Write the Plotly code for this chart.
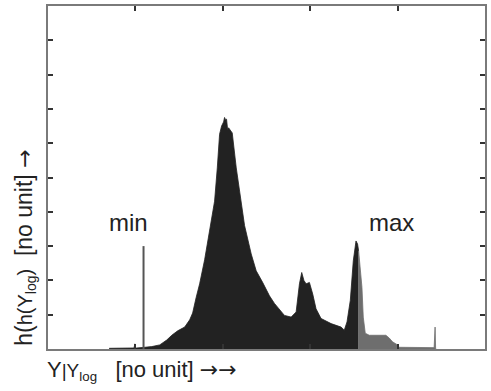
import plotly.graph_objects as go

# Histogram envelope (x in axis units 0..5, height in axis units 0..10)
dark_x = [0.70, 0.97, 0.985, 0.993, 1.0, 1.016, 1.05, 1.107, 1.187, 1.279, 1.358, 1.416, 1.484,
          1.564, 1.621, 1.655, 1.695, 1.735, 1.792, 1.838, 1.869, 1.906, 1.937, 1.963, 1.986,
          2.009, 2.020, 2.032, 2.043, 2.055, 2.066, 2.078, 2.108, 2.154, 2.211, 2.249, 2.325,
          2.382, 2.454, 2.534, 2.591, 2.705, 2.782, 2.839, 2.877, 2.903, 2.928, 2.953, 2.991,
          3.029, 3.067, 3.124, 3.239, 3.353, 3.390, 3.421, 3.459, 3.482, 3.493, 3.524, 3.542,
          3.554]
dark_y = [0.02, 0.03, 0.03, 0.15, 0.03, 0.03, 0.03, 0.05, 0.07, 0.12, 0.26, 0.40, 0.53,
          0.64, 0.85, 1.05, 1.50, 1.90, 2.60, 3.30, 3.73, 4.31, 5.28, 6.26, 6.50,
          6.62, 6.75, 6.68, 6.70, 6.40, 6.45, 6.40, 6.30, 5.28, 4.31, 3.60, 2.77,
          2.28, 1.95, 1.55, 1.33, 0.98, 0.93, 1.08, 1.90, 2.23, 2.00, 1.90, 1.94,
          1.60, 1.17, 0.89, 0.74, 0.64, 0.55, 0.79, 1.42, 2.20, 2.57, 3.15, 3.06,
          2.86]

gray_x = [3.554, 3.570, 3.592, 3.607, 3.630, 3.676, 3.790, 3.866, 3.904, 3.942, 3.999,
          4.018, 4.418, 4.424, 4.429, 4.435, 4.441]
gray_y = [2.86, 2.49, 1.80, 0.93, 0.46, 0.40, 0.40, 0.40, 0.32, 0.21, 0.12,
          0.05, 0.04, 0.64, 0.64, 0.02, 0.0]

min_pos = 1.093
min_height = 3.0

fig = go.Figure()
fig.add_trace(go.Scatter(x=dark_x, y=dark_y, mode="lines", fill="tozeroy",
                         line=dict(color="#222222", width=0.8), fillcolor="#222222",
                         hoverinfo="skip"))
fig.add_trace(go.Scatter(x=gray_x, y=gray_y, mode="lines", fill="tozeroy",
                         line=dict(color="#6e6e6e", width=0.8), fillcolor="#6e6e6e",
                         hoverinfo="skip"))
fig.add_trace(go.Scatter(x=[min_pos, min_pos], y=[0, min_height], mode="lines",
                         xaxis="x2", line=dict(color="#555555", width=2), hoverinfo="skip"))

axis_common = dict(showline=True, linecolor="#7a7a7a", linewidth=1.5,
                   ticks="inside", ticklen=5, tickcolor="#333333", tickwidth=1.5,
                   showticklabels=False, showgrid=False, zeroline=False, dtick=1)
fig.update_layout(
    xaxis=dict(range=[0, 5], mirror="ticks", **axis_common),
    xaxis2=dict(range=[0, 5], overlaying="x", side="top", **axis_common),
    yaxis=dict(range=[0, 10], mirror="ticks", **axis_common),
)

font = "Liberation Sans, Arial, Helvetica, sans-serif"
arrow = "<span style='font-family:DejaVu Sans;font-size:22px'>→</span>"
fig.add_annotation(xref="x", yref="y", x=0.92, y=3.7, text="min", showarrow=False,
                   font=dict(size=24, color="#222", family=font))
fig.add_annotation(xref="x", yref="y", x=3.93, y=3.7, text="max", showarrow=False,
                   font=dict(size=24, color="#222", family=font))
fig.add_annotation(xref="paper", yref="paper", x=-0.008, y=-0.062, xanchor="left",
                   yanchor="middle", showarrow=False,
                   text="Y<span style='font-size:19px'>|Y<sub>log</sub></span>   [no unit] " + arrow + arrow,
                   font=dict(size=22, color="#222", family=font))
fig.add_annotation(xref="paper", yref="paper", x=-0.053, y=0.003, xanchor="center",
                   yanchor="bottom", textangle=-90, showarrow=False,
                   text="h(<span style='font-size:20px'>h(Y<sub>log</sub>)</span>  [no unit] " + arrow,
                   font=dict(size=23, color="#222", family=font))

fig.update_layout(width=491, height=391, margin=dict(l=48, r=5, t=4, b=42),
                  plot_bgcolor="white", paper_bgcolor="white", showlegend=False)
fig.write_html("out.html", config={"displayModeBar": False},
               post_script="document.body.style.margin='0';document.body.style.padding='0';")
